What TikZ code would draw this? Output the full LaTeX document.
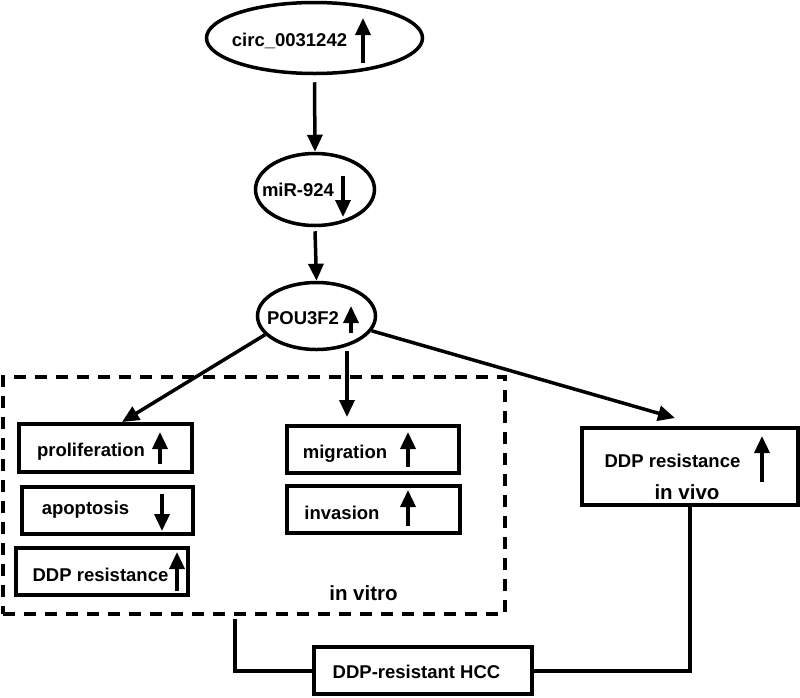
\documentclass[tikz,border=0pt]{standalone}
\usepackage{fontspec}
\setmainfont{Liberation Sans}
\usetikzlibrary{shapes.geometric,arrows.meta}
\tikzset{
  ell/.style={ellipse, draw, line width=3.5pt, inner sep=0pt},
  bx/.style={rectangle, draw, line width=4pt, inner sep=0pt},
  txt/.style={font=\fontsize{18.5}{20}\selectfont\bfseries, inner sep=0pt},
  bigtxt/.style={font=\fontsize{20.5}{22}\selectfont\bfseries, inner sep=0pt},
  conn/.style={line width=3.5pt, -{Triangle[length=17pt,width=15pt]}},
  ind/.style={line width=3.5pt, -{Triangle[length=17pt,width=15pt]}},
  link/.style={line width=4pt},
  dbox/.style={rectangle, draw, line width=4pt, dash pattern=on 12pt off 9pt, inner sep=0pt}
}
\begin{document}
\begin{tikzpicture}[x=1pt,y=-1pt]
\useasboundingbox (0,0) rectangle (800,697);
% ellipses
\node[ell, minimum width=216pt, minimum height=71pt] (circ) at (314.5,38) {};
\node[txt] (circt) at (289.5,41) {circ\_0031242};
\draw[ind] (363,63) -- (363,18);

\node[ell, minimum width=119pt, minimum height=72pt] (mir) at (315,189.5) {};
\node[txt] (mirt) at (298,190) {miR-924};
\draw[ind] (343,176) -- (343,217);

\node[ell, minimum width=118pt, minimum height=67pt] (pou) at (316.5,316) {};
\node[txt] (pout) at (303,318) {POU3F2};
\draw[ind] (351,333) -- (351,306);

% dashed in vitro frame
\node[dbox, minimum width=502pt, minimum height=237pt] (vitro) at (254,495.5) {};
\node[bigtxt] (vitrot) at (363.5,593) {in vitro};

% in vitro boxes
\node[bx, minimum width=173pt, minimum height=48pt] (prol) at (105.5,448) {};
\node[txt] (prolt) at (91,452) {proliferation};
\draw[ind] (160,464) -- (160,432);

\node[bx, minimum width=171pt, minimum height=47pt] (apop) at (107.5,510.5) {};
\node[txt] (apopt) at (85.5,510) {apoptosis};
\draw[ind] (162,494) -- (162,531);

\node[bx, minimum width=172pt, minimum height=47pt] (ddp) at (102,571.5) {};
\node[txt] (ddpt) at (100.5,575) {DDP resistance};
\draw[ind] (177,591) -- (177,552);

\node[bx, minimum width=172pt, minimum height=47pt] (mig) at (373,449.5) {};
\node[txt] (migt) at (345,454) {migration};
\draw[ind] (408,467) -- (408,432);

\node[bx, minimum width=173pt, minimum height=47pt] (inv) at (373.5,509.5) {};
\node[txt] (invt) at (342,513) {invasion};
\draw[ind] (408,526) -- (408,490);

% in vivo box
\node[bx, minimum width=216pt, minimum height=77pt] (vivo) at (690,466.5) {};
\node[txt] (vivot) at (672.5,461) {DDP resistance};
\node[bigtxt] (vivot2) at (687,492) {in vivo};
\draw[ind] (762,482) -- (762,436);

% HCC box
\node[bx, minimum width=218pt, minimum height=47pt] (hcc) at (423,670.5) {};
\node[txt] (hcct) at (416.5,672) {DDP-resistant HCC};

% connectors
\draw[conn] ([yshift=-7pt]circ.south) -- (mir.north);
\draw[conn] ([yshift=-4pt]mir.south) -- (pou.north);
\coordinate (ptip) at (122,422);
\draw[conn] (pou.200) -- (ptip);
\coordinate (mtip) at (347,417);
\draw[conn] (pou.south -| mtip) -- (mtip);
\coordinate (vtip) at (675,418);
\draw[conn] (pou.345) -- (vtip);

\coordinate (vl) at (235,619);
\draw[link] (vl) |- (hcc.west);
\draw[link] (vivo.south) |- (hcc.east);
\end{tikzpicture}
\end{document}
